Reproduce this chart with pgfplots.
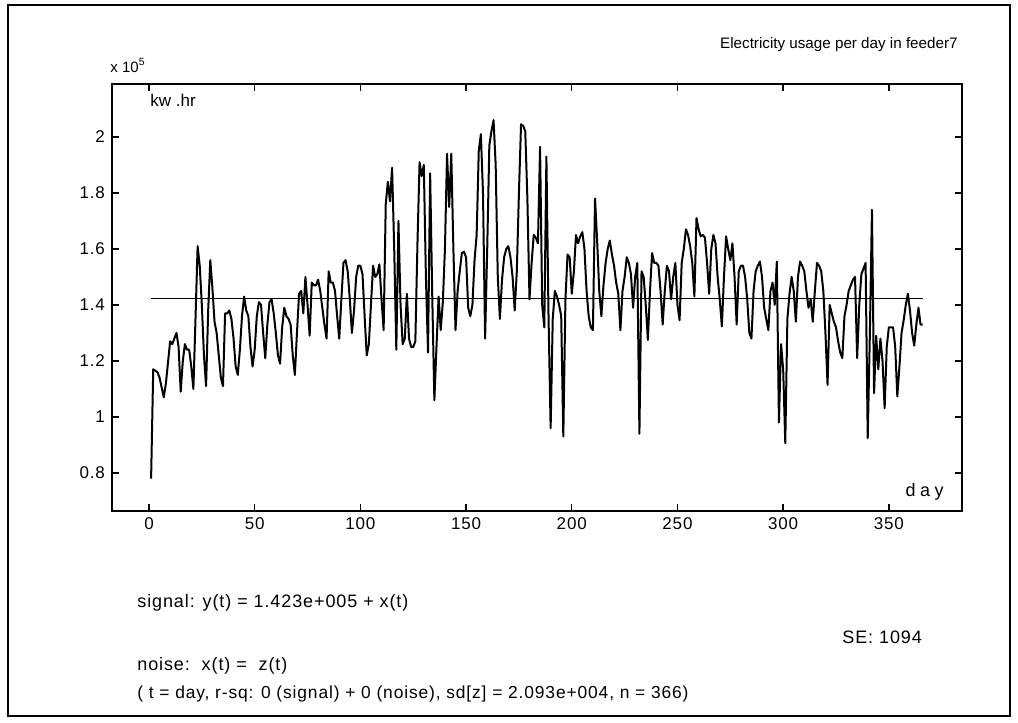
\documentclass[border=0pt]{standalone}
\usepackage{pgfplots}
\pgfplotsset{compat=1.18}
\usepackage{fontspec}
\setmainfont{Liberation Sans}
\newfontfamily\spaced[LetterSpace=5]{Liberation Sans}
\newfontfamily\wide[LetterSpace=25]{Liberation Sans}
\pgfplotstableread{
day val
1 0.78
2 1.17
4 1.16
5 1.14
7 1.07
8 1.12
10 1.27
11 1.26
12 1.28
13 1.30
14 1.25
15 1.09
16 1.20
17 1.26
18 1.24
19 1.24
20 1.18
21 1.10
22 1.35
23 1.61
24 1.54
25 1.40
26 1.22
27 1.11
28 1.38
29 1.56
30 1.46
31 1.34
32 1.30
33 1.22
34 1.14
35 1.11
36 1.37
37 1.37
38 1.38
39 1.35
40 1.28
41 1.18
42 1.15
43 1.24
44 1.36
45 1.43
46 1.38
47 1.36
48 1.25
49 1.18
50 1.24
51 1.36
52 1.41
53 1.40
54 1.30
55 1.21
56 1.33
57 1.41
58 1.42
59 1.37
60 1.30
61 1.22
62 1.19
63 1.32
64 1.39
65 1.36
66 1.35
67 1.33
68 1.22
69 1.15
70 1.30
71 1.44
72 1.45
73 1.37
74 1.50
75 1.40
76 1.29
77 1.48
78 1.47
79 1.47
80 1.49
81 1.45
82 1.39
83 1.33
84 1.28
85 1.52
86 1.48
87 1.48
88 1.45
89 1.36
90 1.28
91 1.42
92 1.55
93 1.56
94 1.52
95 1.42
96 1.30
97 1.38
98 1.50
99 1.54
100 1.54
101 1.51
102 1.36
103 1.22
104 1.26
105 1.40
106 1.54
107 1.50
108 1.51
109 1.545
110 1.42
111 1.31
112 1.76
113 1.84
114 1.77
115 1.89
116 1.60
117 1.24
118 1.70
119 1.40
120 1.26
121 1.28
122 1.44
123 1.28
124 1.25
125 1.25
126 1.27
127 1.62
128 1.91
129 1.86
130 1.90
131 1.50
132 1.23
133 1.87
134 1.43
135 1.06
136 1.25
137 1.43
138 1.31
139 1.41
140 1.60
141 1.94
142 1.75
143 1.94
144 1.60
145 1.31
146 1.45
147 1.52
148 1.585
149 1.59
150 1.57
151 1.39
152 1.36
153 1.40
154 1.56
155 1.65
156 1.95
157 2.01
158 1.80
159 1.28
160 1.60
161 1.97
162 2.02
163 2.06
164 1.90
165 1.50
166 1.35
167 1.49
168 1.57
169 1.60
170 1.61
171 1.57
172 1.50
173 1.38
174 1.52
175 1.80
176 2.045
177 2.04
178 2.02
179 1.78
180 1.42
181 1.55
182 1.65
183 1.64
184 1.62
185 1.965
186 1.40
187 1.32
188 1.93
189 1.36
190 0.96
191 1.35
192 1.45
193 1.43
194 1.40
195 1.36
196 0.93
197 1.42
198 1.58
199 1.57
200 1.44
201 1.52
202 1.65
203 1.62
204 1.645
205 1.66
206 1.60
207 1.45
208 1.36
209 1.32
210 1.31
211 1.78
212 1.63
213 1.45
214 1.36
215 1.47
216 1.55
217 1.60
218 1.63
219 1.58
220 1.54
221 1.48
222 1.44
223 1.31
224 1.45
225 1.50
226 1.57
227 1.55
228 1.51
229 1.39
230 1.50
231 1.55
232 0.94
233 1.52
234 1.50
235 1.40
236 1.275
237 1.45
238 1.585
239 1.55
240 1.55
241 1.54
242 1.45
243 1.33
244 1.45
245 1.54
246 1.52
247 1.42
248 1.50
249 1.55
250 1.40
251 1.345
252 1.55
253 1.60
254 1.67
255 1.65
256 1.61
257 1.55
258 1.43
259 1.71
260 1.67
261 1.645
262 1.65
263 1.64
264 1.55
265 1.44
266 1.60
267 1.65
268 1.62
269 1.50
270 1.42
271 1.323
272 1.50
273 1.645
274 1.60
275 1.56
276 1.62
277 1.50
278 1.33
279 1.52
280 1.54
281 1.54
282 1.50
283 1.42
284 1.30
285 1.28
286 1.45
287 1.52
288 1.54
289 1.555
290 1.50
291 1.39
292 1.35
293 1.31
294 1.45
295 1.48
296 1.40
297 1.555
298 0.98
299 1.26
300 1.17
301 0.906
302 1.35
303 1.44
304 1.50
305 1.45
306 1.34
307 1.50
308 1.555
309 1.54
310 1.52
311 1.45
312 1.39
313 1.42
314 1.34
315 1.45
316 1.55
317 1.54
318 1.52
319 1.45
320 1.30
321 1.114
322 1.40
323 1.37
324 1.34
325 1.32
326 1.27
327 1.23
328 1.21
329 1.36
330 1.40
331 1.45
332 1.47
333 1.49
334 1.50
335 1.21
336 1.40
337 1.51
338 1.53
339 1.55
340 0.924
341 1.29
342 1.74
343 1.085
344 1.29
345 1.17
346 1.28
347 1.20
348 1.031
349 1.25
350 1.32
351 1.32
352 1.32
353 1.25
354 1.073
355 1.18
356 1.30
357 1.345
358 1.40
359 1.44
360 1.38
361 1.30
362 1.255
363 1.33
364 1.39
365 1.33
366 1.33
}\usage
\begin{document}
\begin{tikzpicture}
\useasboundingbox (0pt,0pt) rectangle (509pt,-361.5pt);
\draw[line width=0.9pt] (4pt,-2.5pt) rectangle (505pt,-358pt);
\begin{axis}[
  at={(56pt,-255.5pt)}, anchor=south west,
  width=425pt, height=213.5pt, scale only axis,
  xmin=-17.5, xmax=384.6, ymin=0.664, ymax=2.189,
  xtick={0,50,100,150,200,250,300,350},
  xticklabels={0,50,100,150,200,250,300,350},
  ytick={0.8,1,1.2,1.4,1.6,1.8,2},
  yticklabels={0.8,1,1.2,1.4,1.6,1.8,2},
  scaled ticks=false,
  tick align=inside, major tick length=3.5pt,
  axis line style={line width=0.9pt},
  every tick/.style={black, line width=0.7pt},
  ticklabel style={font=\spaced\fontsize{8.5}{9}\selectfont},
  /pgf/number format/assume math mode=true,
  clip=true,
]
\addplot[black, line width=1pt, line join=round] table[x=day,y=val] {\usage};
\addplot[black, line width=0.6pt] coordinates {(1,1.423) (366,1.423)};
\end{axis}
\node[anchor=base east, inner sep=0, font=\fontsize{7.6}{8}\selectfont] at (479pt,-24pt) {Electricity usage per day in feeder7};
\node[anchor=base west, inner sep=0, font=\fontsize{7.5}{8}\selectfont] at (55pt,-36pt) {x 10\textsuperscript{5}};
\node[anchor=base west, inner sep=0, font=\fontsize{8.5}{9}\selectfont] at (75pt,-53pt) {kw .hr};
\node[anchor=base east, inner sep=0, font=\wide\fontsize{9}{9}\selectfont] at (472pt,-248pt) {day};
\node[anchor=base west, inner sep=0, font=\spaced\fontsize{9}{10}\selectfont] at (68.5pt,-303.5pt) {signal: y(t) = 1.423e+005 + x(t)};
\node[anchor=base west, inner sep=0, font=\spaced\fontsize{9}{10}\selectfont] at (421pt,-321.5pt) {SE: 1094};
\node[anchor=base west, inner sep=0, font=\spaced\fontsize{9}{10}\selectfont] at (68.5pt,-335pt) {noise:\ \ x(t) =\ \ z(t)};
\node[anchor=base west, inner sep=0, font=\spaced\fontsize{8.7}{10}\selectfont] at (68.5pt,-349pt) {( t = day, r-sq: 0 (signal) + 0 (noise), sd[z] = 2.093e+004, n = 366)};
\end{tikzpicture}
\end{document}
